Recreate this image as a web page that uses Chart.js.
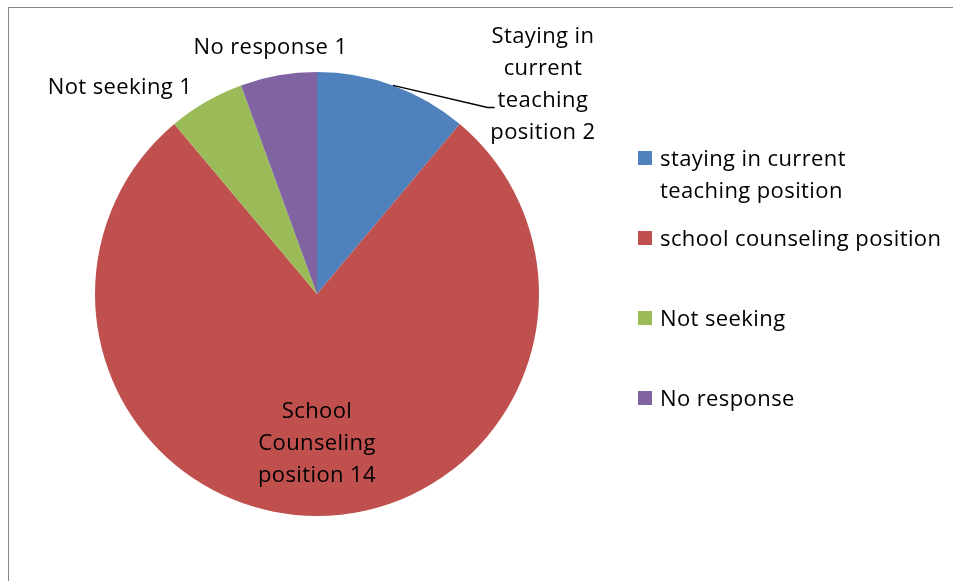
<!DOCTYPE html>
<html>
<head>
<meta charset="utf-8">
<script src="https://cdn.jsdelivr.net/npm/chart.js@4.4.0/dist/chart.umd.min.js"></script>
<style>
  body { margin: 0; background: #fff; }
  canvas { display: block; }
</style>
</head>
<body>
<canvas id="pie-chart" width="953" height="581"></canvas>
<script>
const categories = [
    'staying in current teaching position',
    'school counseling position',
    'Not seeking',
    'No response'
];
const values = [2, 14, 1, 1];
const colors = ['#4f81bd', '#c0504d', '#9bbb59', '#8064a2'];

// text shown on the slices (wrapped the way the picture shows it)
const sliceLabels = [
    ['Staying in', 'current', 'teaching', 'position 2'],
    ['School', 'Counseling', 'position 14'],
    ['Not seeking 1'],
    ['No response 1']
];
const legendLines = [
    ['staying in current', 'teaching position'],
    ['school counseling position'],
    ['Not seeking'],
    ['No response']
];

const FONT = '22px "Open Sans", sans-serif';
const SPACING = '0.4px';
const LINE_H = 32;
const TEXT_DY = 1.5; // nudge so the glyphs sit like the reference

const framePlugin = {
    id: 'frame',
    beforeDraw(chart) {
        const c = chart.ctx;
        c.save();
        c.strokeStyle = '#868686';
        c.lineWidth = 1;
        c.strokeRect(8.5, 7.5, 1200, 1200);
        c.restore();
    }
};

const labelPlugin = {
    id: 'sliceLabels',
    afterDraw(chart) {
        const c = chart.ctx;
        const arcs = chart.getDatasetMeta(0).data;
        c.save();
        c.font = FONT;
        c.letterSpacing = SPACING;
        c.fillStyle = '#000';
        c.textAlign = 'center';
        c.textBaseline = 'middle';
        arcs.forEach((arc, i) => {
            const mid = (arc.startAngle + arc.endAngle) / 2;
            const R = arc.outerRadius;
            const ox = arc.x + Math.cos(mid) * R;
            const oy = arc.y + Math.sin(mid) * R;
            const lines = sliceLabels[i];
            let cx, cy;
            if (i === 1) {
                cx = arc.x + Math.cos(mid) * R * 0.667;
                cy = arc.y + Math.sin(mid) * R * 0.667;
            } else if (i === 0) {
                cx = ox + 150; cy = oy - 2;
            } else if (i === 2) {
                cx = ox - 86; cy = oy - 16;
            } else {
                cx = ox - 8; cy = oy - 29;
            }
            const top = cy - (lines.length - 1) * LINE_H / 2;
            lines.forEach((t, k) => c.fillText(t, cx, top + k * LINE_H + TEXT_DY));
            if (i === 0) {
                // leader line to the third line of the label
                const ly = top + 2 * LINE_H;
                const lx = cx - c.measureText(lines[2]).width / 2;
                c.strokeStyle = '#000';
                c.lineWidth = 1.5;
                c.beginPath();
                c.moveTo(ox, oy);
                c.lineTo(lx - 10, ly + 8);
                c.lineTo(lx - 3, ly + 8);
                c.stroke();
            }
        });
        c.restore();
    }
};

const legendPlugin = {
    id: 'sideLegend',
    afterDraw(chart) {
        const c = chart.ctx;
        c.save();
        c.font = FONT;
        c.letterSpacing = SPACING;
        c.textAlign = 'left';
        c.textBaseline = 'middle';
        const x0 = 638, y0 = 158, step = 80, box = 14;
        legendLines.forEach((lines, i) => {
            const y = y0 + i * step;
            c.fillStyle = colors[i];
            c.fillRect(x0, y - box / 2, box, box);
            c.fillStyle = '#000';
            lines.forEach((t, k) => c.fillText(t, x0 + 22, y + k * LINE_H + TEXT_DY));
        });
        c.restore();
    }
};

new Chart(document.getElementById('pie-chart'), {
    type: 'pie',
    plugins: [framePlugin, labelPlugin, legendPlugin],
    data: {
        labels: categories,
        datasets: [{
            data: values,
            backgroundColor: colors,
            borderWidth: 0
        }]
    },
    options: {
        responsive: false,
        animation: false,
        layout: {
            padding: { top: 72, bottom: 65, left: 95, right: 414 }
        },
        plugins: {
            legend: { display: false },
            tooltip: { enabled: false }
        }
    }
});
</script>
</body>
</html>
